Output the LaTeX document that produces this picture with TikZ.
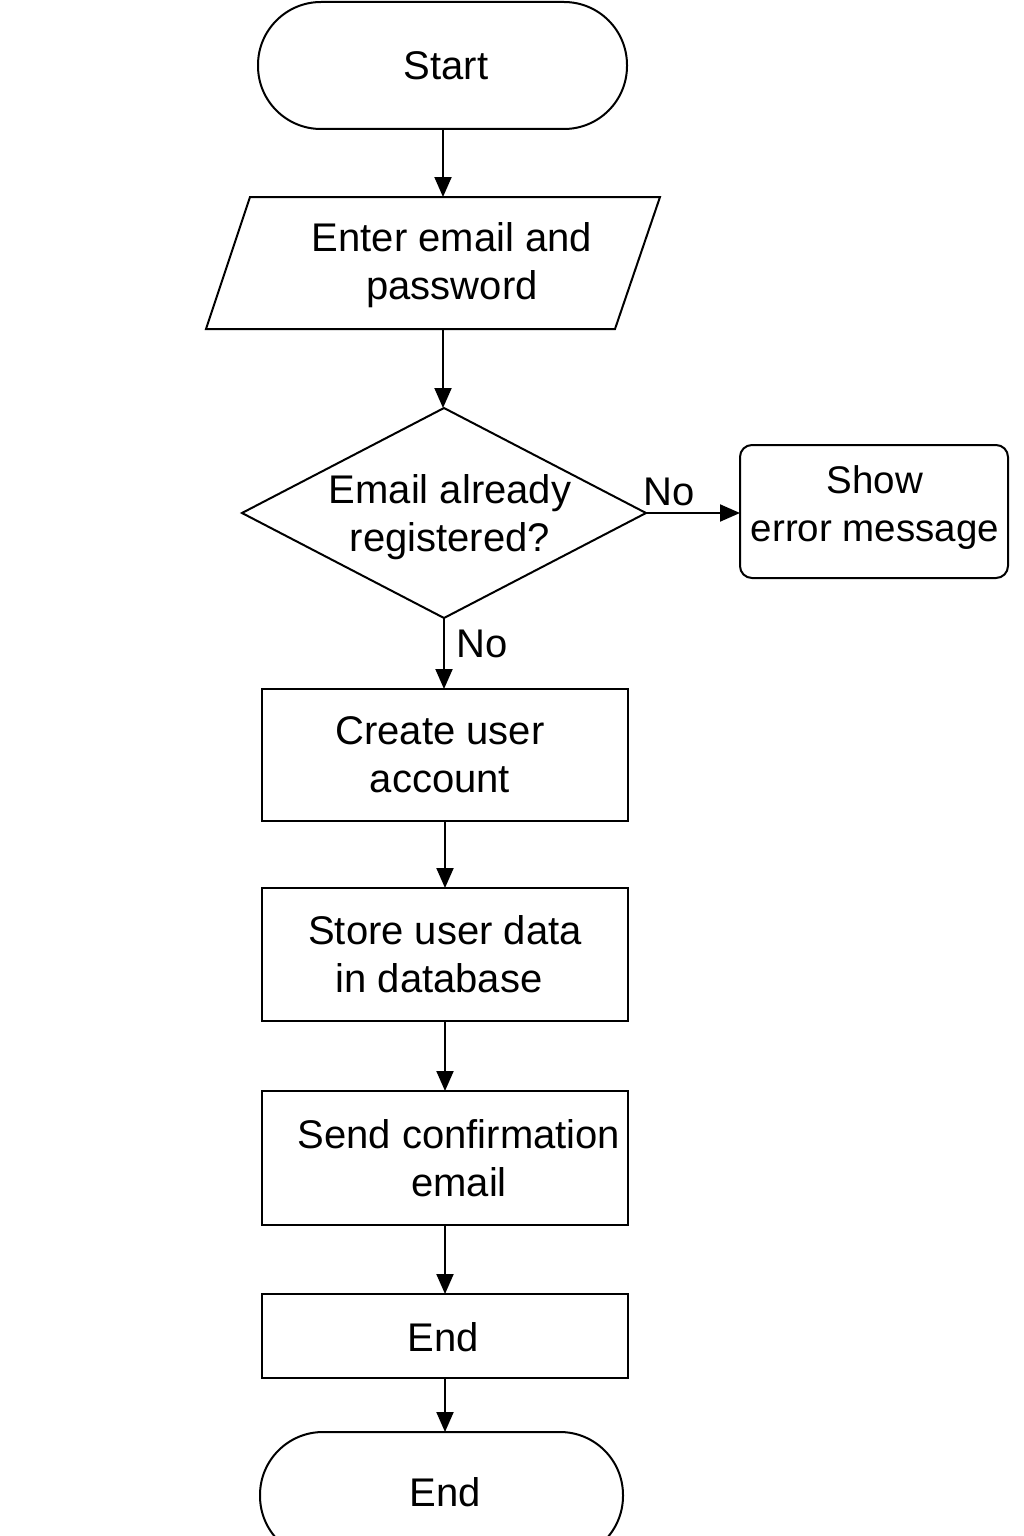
\documentclass[tikz,border=0pt]{standalone}
\usepackage{fontspec}
\setmainfont{Liberation Sans}
\usetikzlibrary{arrows.meta,shapes.geometric}
\begin{document}
\begin{tikzpicture}[x=1pt,y=-1pt,
  line width=2pt,
  every node/.style={font=\fontsize{40}{48}\selectfont, inner sep=0pt, outer sep=0pt},
  txt/.style={align=center},
  procbox/.style={draw, rectangle, minimum width=366pt},
  term/.style={draw, rectangle, rounded corners=63pt, minimum height=127pt},
  arr/.style={-{Triangle[length=20pt,width=17pt]}}
]
\useasboundingbox (0,0) rectangle (1024,1536);
\begin{scope}
\clip (0,0) rectangle (1024,1536);
% Start
\node[term, minimum width=369pt] (start) at (442.5,65.5) {};
\node[txt] (startT) at (446,66) {Start};
% Parallelogram
\coordinate (p1) at (250,197);
\coordinate (p2) at (660,197);
\coordinate (p3) at (615,329);
\coordinate (p4) at (206,329);
\draw (p1) -- (p2) -- (p3) -- (p4) -- cycle;
\coordinate (inTop) at (443,197);
\coordinate (inBot) at (443,329);
\node[txt] (inT) at (452,265) {Enter email and\\password};
% Diamond
\node[draw, diamond, minimum width=404pt, minimum height=210pt] (dec) at (444,513) {};
\node[txt] (decT) at (450,517) {Email already\\registered?};
% Error
\node[draw, rectangle, rounded corners=12pt, minimum width=268pt, minimum height=133pt] (err) at (874,511.5) {};
\node[txt, font=\fontsize{38.5}{48}\selectfont] (errT) at (875,508) {Show\\error message};
% Create
\node[procbox, minimum height=132pt] (create) at (445,755) {};
\node[txt] (createT) at (440,755) {Create user\\account};
% Store
\node[procbox, minimum height=133pt] (store) at (445,954.5) {};
\node[txt] (storeT) at (445,954) {Store user data\\\hspace*{-12pt}in database};
% Send
\node[procbox, minimum height=134pt] (send) at (445,1158) {};
\node[txt] (sendT) at (459,1158) {Send confirmation\\email};
% End box
\node[procbox, minimum height=84pt] (endbox) at (445,1336) {};
\node[txt] (endboxT) at (443,1337) {End};
% End terminal
\node[term, minimum width=363pt] (endterm) at (441.5,1495.5) {};
\node[txt] (endtermT) at (445,1492) {End};
% connectors
\draw[arr] (start.south -| inTop) -- (inTop);
\draw[arr] (inBot) -- (dec.north -| inBot);
\draw[arr] (dec.east) -- (err.west |- dec.east);
\node (no1) at (669,492) {No};
\draw[arr] (dec.south) -- (create.north -| dec.south);
\node (no2) at (482,644) {No};
\draw[arr] (create) -- (store);
\draw[arr] (store) -- (send);
\draw[arr] (send) -- (endbox);
\draw[arr] (endbox.south) -- (endterm.north -| endbox.south);
\end{scope}
\end{tikzpicture}
\end{document}
